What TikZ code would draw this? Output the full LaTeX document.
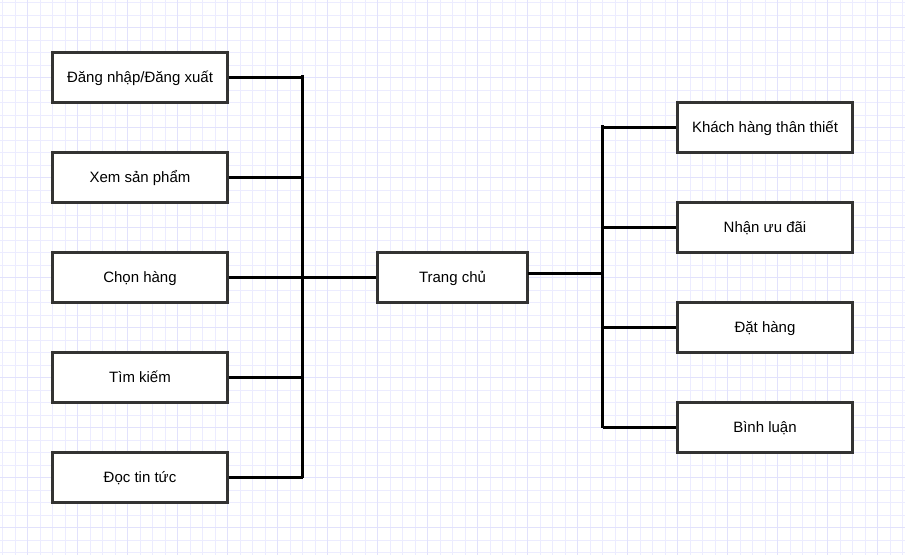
\documentclass[tikz,border=0pt]{standalone}
\usepackage{fontspec}
\setmainfont{Liberation Sans}
\definecolor{gridminor}{RGB}{236,236,255}
\definecolor{gridmajor}{RGB}{226,226,252}
\definecolor{boxline}{RGB}{51,51,51}
\tikzset{
  funcbox/.style={draw=boxline, line width=2.2pt, fill=white, minimum width=175pt, minimum height=50pt, inner sep=0pt, text height=10.8pt, text depth=0pt, font=\fontsize{15pt}{18pt}\selectfont, text=black},
  conn/.style={draw=black, line width=2.2pt}
}
\begin{document}
\begin{tikzpicture}[x=1pt,y=-1pt]
\useasboundingbox (0,0) rectangle (905,555);
\fill[white] (0,0) rectangle (905,555);
% grid
\foreach \i in {0,...,72} {
  \draw[gridminor, line width=0.8pt] ({2.5+12.5*\i},0) -- ({2.5+12.5*\i},555);
}
\foreach \j in {0,...,44} {
  \draw[gridminor, line width=0.8pt] (0,{2.5+12.5*\j}) -- (905,{2.5+12.5*\j});
}
\foreach \i in {0,...,18} {
  \draw[gridmajor, line width=0.8pt] ({27.5+50*\i},0) -- ({27.5+50*\i},555);
}
\foreach \j in {0,...,11} {
  \draw[gridmajor, line width=0.8pt] (0,{27.5+50*\j}) -- (905,{27.5+50*\j});
}
% left boxes
\node[funcbox] (l1) at (140,77.5) {Đăng nhập/Đăng xuất};
\node[funcbox] (l2) at (140,177.5) {Xem sản phẩm};
\node[funcbox] (l3) at (140,277.5) {Chọn hàng};
\node[funcbox] (l4) at (140,377.5) {Tìm kiếm};
\node[funcbox] (l5) at (140,477.5) {Đọc tin tức};
% center
\node[funcbox, minimum width=150pt] (tc) at (452.5,277.5) {Trang chủ};
% right boxes
\node[funcbox] (r1) at (765,127.5) {Khách hàng thân thiết};
\node[funcbox] (r2) at (765,227.5) {Nhận ưu đãi};
\node[funcbox] (r3) at (765,327.5) {Đặt hàng};
\node[funcbox] (r4) at (765,427.5) {Bình luận};
% bus coordinates
\coordinate (lbtop) at (302.5,75);
\coordinate (lbbot) at (302.5,477.5);
\coordinate (rbtop) at (602.5,125);
\coordinate (rbbot) at (602.5,427.5);
\coordinate (tcr) at (527.5,273.5);
\coordinate (tcrb) at (602.5,273.5);
% connectors
\draw[conn] (lbtop) -- (lbbot);
\draw[conn] (rbtop) -- (rbbot);
\foreach \n in {l1,l2,l3,l4,l5} {
  \draw[conn] (\n.east) -- (\n.east -| lbtop);
}
\draw[conn] (tc.west) -- (tc.west -| lbtop);
\draw[conn] (tcr) -- (tcrb);
\foreach \n in {r1,r2,r3,r4} {
  \draw[conn] (\n.west) -- (\n.west -| rbtop);
}
\end{tikzpicture}
\end{document}
